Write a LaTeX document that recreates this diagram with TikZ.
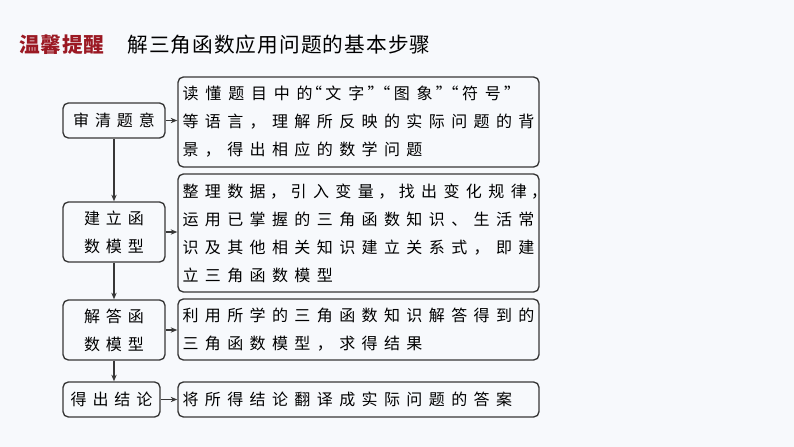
\documentclass[tikz,border=0pt]{standalone}
\usepackage{fontspec}
\newfontfamily\cjk{Noto Sans CJK SC}
\usetikzlibrary{arrows.meta}
\definecolor{bg}{RGB}{247,249,252}
\definecolor{ln}{RGB}{55,55,55}
\definecolor{tred}{RGB}{155,25,35}
\makeatletter
\def\qw{8.5pt}
\def\commaw{\cellw}
\newcommand\cells[2]{\def\cellw{#1}\cells@a#2\@nil}
\def\cells@a#1#2\@nil{\cells@one{#1}\ifx\relax#2\relax\else\cells@a#2\@nil\fi}
\def\cells@one#1{\ifx“#1\makebox[\qw][r]{\makebox[0pt][r]{#1}}\else\ifx”#1\makebox[\qw][l]{\makebox[0pt][l]{#1}}\else\ifx，#1\makebox[\commaw]{#1}\else\makebox[\cellw]{#1}\fi\fi\fi}
\makeatother
\newcommand\bodyfont{\cjk\fontsize{12pt}{21pt}\selectfont}
\begin{document}
\begin{tikzpicture}[x=0.75pt,y=-0.75pt,
  box/.style={draw=ln,line width=1pt,rounded corners=4pt,inner sep=0pt,font=\bodyfont,text=black},
  lbox/.style={box,align=center,minimum width=76.5pt},
  rbox/.style={box,align=left,text width=268.8pt,minimum width=270.75pt},
  arr/.style={draw=ln,line width=1pt,-{Stealth[length=5pt,width=4pt]}}]
\path[fill=bg,use as bounding box] (0,0) rectangle (794,447);
\node[anchor=west,inner sep=0pt,text=tred,font=\cjk\fontsize{15.5pt}{18pt}\selectfont\bfseries] (t1) at (18.5,45) {\cells{16.1pt}{温馨提醒}};
\node[anchor=west,inner sep=0pt,text=black,font=\cjk\fontsize{15.5pt}{18pt}\selectfont] (t2) at (126.5,45) {\cells{16.3pt}{解三角函数应用问题的基本步骤}};
% left boxes
\node[lbox,minimum height=26.25pt] (L1) at (114,120.5) {\cells{16.4pt}{审清题意}};
\node[lbox,minimum height=45pt] (L2) at (114,232) {\cells{16.4pt}{建立函}\\\cells{16.4pt}{数模型}};
\node[lbox,minimum height=45pt] (L3) at (114,330) {\cells{16.4pt}{解答函}\\\cells{16.4pt}{数模型}};
\node[lbox,minimum height=26.25pt,minimum width=72.75pt] (L4) at (111.5,399.5) {\cells{16.4pt}{得出结论}};
% right boxes
\node[rbox,minimum height=67.5pt] (R1) at (358.5,122) {\cells{17.1pt}{读懂题目中的}\makebox[4.5pt][r]{\makebox[0pt][r]{“}}\cells{17.1pt}{文字”“图象”“符号”}\\\cells{16.8pt}{等语言，理解所反映的实际问题的背}\\\cells{16.8pt}{景，得出相应的数学问题}};
\node[rbox,minimum height=88.5pt] (R2) at (358.5,233) {{\def\commaw{13.9pt}\cells{16.8pt}{整理数据，引入变量，找出变化规律，}}\\\cells{16.8pt}{运用已掌握的三角函数知识、生活常}\\\cells{16.8pt}{识及其他相关知识建立关系式，即建}\\\cells{16.8pt}{立三角函数模型}};
\node[rbox,minimum height=45.75pt] (R3) at (358.5,329.5) {\cells{16.8pt}{利用所学的三角函数知识解答得到的}\\\cells{16.8pt}{三角函数模型，求得结果}};
\node[rbox,minimum height=26.25pt] (R4) at (358.5,399.5) {\cells{16.8pt}{将所得结论翻译成实际问题的答案}};
% arrows
\draw[arr] (L1.east) -- (L1.east -| R1.west);
\draw[arr] (L2.east) -- (L2.east -| R2.west);
\draw[arr] (L3.east) -- (L3.east -| R3.west);
\draw[arr] (L4.east) -- (L4.east -| R4.west);
\draw[arr] (L1.south) -- (L2.north);
\draw[arr] (L2.south) -- (L3.north);
\draw[arr] (L3.south) -- (L3.south |- L4.north);
\end{tikzpicture}
\end{document}
